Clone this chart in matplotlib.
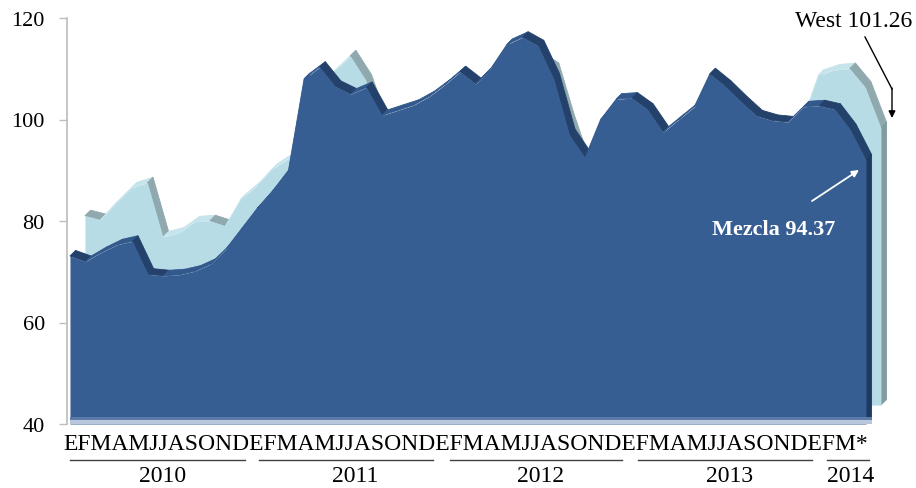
import numpy as np
import matplotlib.pyplot as plt
from matplotlib.patches import Polygon
from matplotlib.transforms import Affine2D

plt.rcParams['font.family'] = ['Liberation Serif', 'DejaVu Serif']

# monthly prices (USD/bbl), Jan 2010 .. Mar 2014 + latest (*)
months = ['E', 'F', 'M', 'A', 'M', 'J', 'J', 'A', 'S', 'O', 'N', 'D']
years = ['2010', '2011', '2012', '2013', '2014']

mezcla = [73.1, 72.0, 73.8, 75.3, 76.0, 69.5, 69.2, 69.4, 70.1, 71.5, 74.5, 78.5,
          82.5, 86.0, 90.0, 108.0, 110.3, 106.5, 105.0, 106.3, 100.8, 101.8, 102.8, 104.5,
          106.8, 109.4, 107.0, 110.2, 114.8, 116.2, 114.5, 108.0, 97.0, 92.5, 100.0, 104.0,
          104.2, 102.0, 97.5, 100.0, 102.5, 109.0, 106.5, 103.5, 100.7, 99.8, 99.5, 102.5,
          102.7, 102.0, 98.0, 92.0]

west = [77.3, 76.5, 79.8, 82.8, 83.8, 73.1, 73.9, 76.1, 76.3, 75.3, 80.6, 83.2,
        86.5, 88.5, 91.3, 100.3, 105.8, 108.8, 104.0, 95.3, 92.3, 93.3, 95.3, 97.3,
        99.3, 100.3, 102.3, 104.3, 106.3, 108.3, 106.3, 96.0, 87.0, 84.3, 90.3, 93.3,
        92.3, 90.3, 89.3, 91.3, 95.3, 100.3, 97.3, 93.3, 91.3, 93.3, 96.3, 105.0,
        106.0, 106.3, 102.6, 94.6]

W, H = 916, 489
fig = plt.figure(figsize=(W / 100, H / 100), dpi=100)
ax = fig.add_axes([67 / W, (H - 425) / H, (905 - 67) / W, (425 - 19) / H])
ax.set_xlim(-0.19, 53.5)
ax.set_ylim(40, 120)

# depth of each ribbon (data units) and position of the back series
DX, DY = 0.36, 1.1


def ribbon(xs, ys, ox, oy, face, up, down, side, z):
    X = np.asarray(xs, float) + ox
    Y = np.asarray(ys, float) + oy
    base = 40 + oy
    for i in range(len(X) - 1):
        c = up if Y[i + 1] > Y[i] else down
        quad = [(X[i], Y[i]), (X[i + 1], Y[i + 1]),
                (X[i + 1] + DX, Y[i + 1] + DY), (X[i] + DX, Y[i] + DY)]
        ax.add_patch(Polygon(quad, closed=True, fc=c, ec=c, lw=0.6, zorder=z))
    ax.add_patch(Polygon([(X[-1], base), (X[-1], Y[-1]), (X[-1] + DX, Y[-1] + DY),
                          (X[-1] + DX, base + DY)], closed=True, fc=side, ec=side,
                         lw=0.6, zorder=z))
    ax.fill_between(X, base, Y, color=face, lw=0, zorder=z + 0.5)


x = np.arange(len(mezcla))
ribbon(x, west, 0.96, 3.74, '#b7dce6', '#c6e4eb', '#8fa9ae', '#809ca1', 1)
ribbon(x, mezcla, 0, 0, '#375e92', '#32588c', '#23416a', '#1f3a60', 3)
# floor shading under the front ribbon
ax.fill_between([0, len(mezcla) - 1 + DX], 40.7, 41.4, color='#5b7aa8', lw=0, zorder=4)
ax.fill_between([0, len(mezcla) - 1 + DX], 40, 40.7, color='#b9c6dc', lw=0, zorder=4)

ax.set_yticks([40, 60, 80, 100, 120])
ax.tick_params(axis='y', direction='out', length=6, color='#bfbfbf', width=1,
               labelsize=16, pad=10)
ax.set_xticks([])
for s in ['top', 'right', 'bottom']:
    ax.spines[s].set_visible(False)
ax.spines['left'].set_color('#c0c0c0')
ax.spines['left'].set_linewidth(1.3)

# pixel coordinates from the top-left corner, for the layout of the labels
px = Affine2D().scale(1 / W, -1 / H).translate(0, 1) + fig.transFigure

fig.text(63, 450, ''.join(months) * 4 + ''.join(months[:3]) + '*', transform=px,
         fontsize=17, ha='left', va='baseline')
year_lines = [(70, 245), (259, 433), (450, 622), (638, 812), (827, 869)]
year_x = [163, 355, 541, 730, 851]
for yr, (a, b), cx in zip(years, year_lines, year_x):
    fig.add_artist(plt.Line2D([a, b], [461, 461], transform=px, color='#404040', lw=1))
    fig.text(cx, 482, yr, transform=px, fontsize=17, ha='center', va='baseline')

fig.text(912, 27, 'West 101.26', transform=px, fontsize=17, ha='right', va='baseline')
fig.add_artist(plt.Line2D([865, 892], [38, 90], transform=px, color='black', lw=1))
ax.annotate('', xy=(892, 119), xytext=(892, 89), xycoords=px, textcoords=px,
            arrowprops=dict(arrowstyle='-|>', color='black', lw=1, mutation_scale=10,
                            shrinkA=0, shrinkB=0))

ax.text(774, 230, 'Mezcla 94.37', transform=px, fontsize=16, fontweight='bold',
        color='white', ha='center', va='center', zorder=6)
ax.annotate('', xy=(859, 171), xytext=(812, 202), xycoords=px, textcoords=px,
            arrowprops=dict(arrowstyle='-|>', color='white', lw=1.3, mutation_scale=10,
                            shrinkA=0, shrinkB=0), zorder=6)

fig.savefig('out.png', dpi=100)
